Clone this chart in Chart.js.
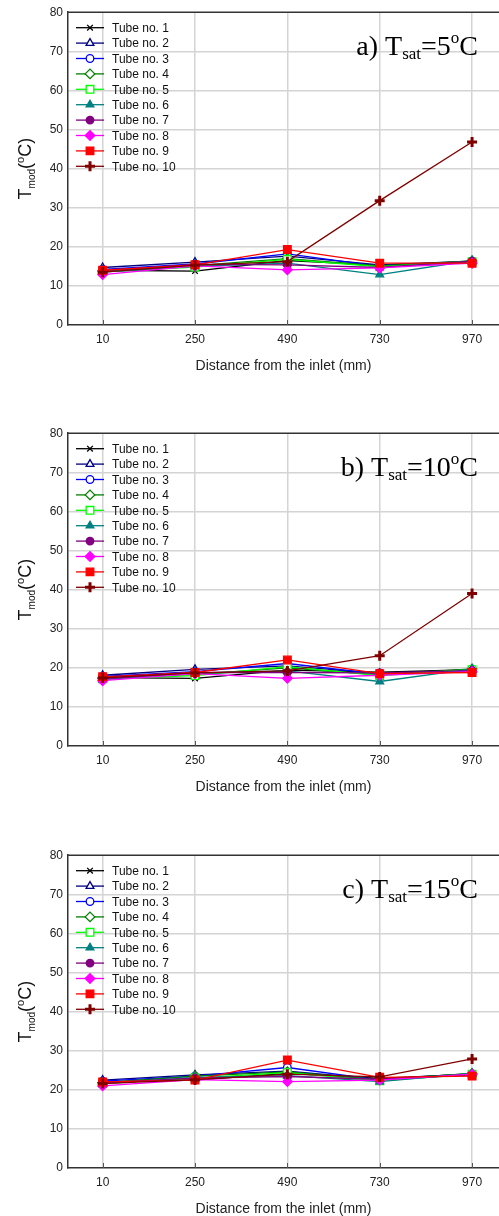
<!DOCTYPE html>
<html>
<head>
<meta charset="utf-8">
<title>Tube temperature profiles</title>
<script src="https://cdn.jsdelivr.net/npm/chart.js@4.4.1/dist/chart.umd.min.js"></script>
<style>
html, body { margin: 0; padding: 0; background: #fff; overflow: hidden; }
canvas { position: absolute; left: 0; }
</style>
</head>
<body>
<canvas id="chartA" width="499" height="421" style="top:0px"></canvas>
<canvas id="chartB" width="499" height="421" style="top:421px"></canvas>
<canvas id="chartC" width="499" height="373" style="top:843px"></canvas>
<script>
// measuring positions along the tube (mm)
const distances = [10, 250, 490, 730, 970];
const yTicks = [0, 10, 20, 30, 40, 50, 60, 70, 80];
const tubeNames = ['Tube no. 1', 'Tube no. 2', 'Tube no. 3', 'Tube no. 4', 'Tube no. 5',
	'Tube no. 6', 'Tube no. 7', 'Tube no. 8', 'Tube no. 9', 'Tube no. 10'];

// T_mod per tube, one row per tube, for each saturation temperature
const tsat5 = [
	[14.0, 13.8, 16.5, 15.3, 16.2],
	[14.7, 16.1, 17.6, 15.4, 16.3],
	[14.2, 15.6, 18.2, 15.0, 16.0],
	[13.8, 15.2, 17.0, 15.1, 16.4],
	[13.6, 14.8, 16.8, 14.9, 16.2],
	[13.5, 15.0, 15.8, 12.9, 16.5],
	[13.9, 15.5, 15.4, 14.7, 16.3],
	[12.9, 15.1, 14.1, 14.6, 15.8],
	[14.0, 15.4, 19.3, 15.8, 15.8],
	[13.5, 15.3, 16.2, 31.8, 46.8]
];
const tsat10 = [
	[17.5, 17.3, 19.4, 18.9, 19.5],
	[18.1, 19.6, 20.5, 18.6, 19.4],
	[17.8, 19.0, 21.1, 18.4, 19.2],
	[17.3, 18.3, 20.0, 18.2, 19.7],
	[17.2, 18.0, 20.3, 18.0, 19.5],
	[17.0, 18.6, 19.2, 16.5, 19.7],
	[17.2, 18.8, 18.8, 18.7, 19.3],
	[16.7, 18.5, 17.3, 18.1, 19.0],
	[17.7, 18.8, 22.0, 18.5, 18.8],
	[17.4, 18.7, 19.2, 23.1, 39.0]
];
const tsat15 = [
	[22.0, 22.5, 24.2, 22.9, 24.0],
	[22.5, 23.8, 24.8, 22.7, 24.1],
	[22.2, 23.5, 25.7, 22.5, 23.9],
	[21.8, 23.5, 24.6, 22.6, 24.2],
	[21.6, 23.0, 24.4, 22.3, 24.0],
	[21.6, 23.2, 23.6, 22.1, 24.2],
	[21.8, 23.0, 23.4, 22.7, 23.9],
	[21.0, 22.6, 22.1, 22.5, 24.0],
	[22.0, 22.5, 27.6, 23.2, 23.5],
	[21.6, 22.6, 24.0, 23.3, 27.9]
];

const tubeColors = ['#000000', '#000080', '#0000ff', '#008000', '#00ff00',
	'#008080', '#800080', '#ff00ff', '#ff0000', '#800000'];
const tubeMarkers = ['crossRot', 'triangle', 'circle', 'rectRot', 'rect',
	'triangle', 'circle', 'rectRot', 'rect', 'cross'];
const tubeOpen = [false, true, true, true, true, false, false, false, false, false];
const markerRadius = { crossRot: 4, triangle: 4.5, circle: 3.8, rectRot: 4.8, rect: 5.4, cross: 5 };

const SANS = '"Liberation Sans", Arial, sans-serif';
const SERIF = '"Liberation Serif", "Times New Roman", serif';
Chart.defaults.font.family = SANS;
Chart.defaults.color = '#222';

function buildDatasets(rows) {
	return rows.map((vals, i) => ({
		label: tubeNames[i],
		data: vals.map((v, j) => ({x: distances[j], y: v})),
		borderColor: tubeColors[i],
		borderWidth: 1.3,
		pointStyle: tubeMarkers[i],
		pointRadius: markerRadius[tubeMarkers[i]],
		pointBorderWidth: tubeMarkers[i] === 'cross' ? 3 : 1.3,
		pointBackgroundColor: tubeOpen[i] ? '#ffffff' : tubeColors[i],
		pointBorderColor: tubeColors[i],
		order: rows.length - i
	}));
}

// draws a run of text pieces (baseline shifts, sizes) from x
function drawPieces(ctx, pieces, x, y) {
	pieces.forEach(p => {
		ctx.font = p.font;
		ctx.fillText(p.text, x, y + (p.dy || 0));
		x += ctx.measureText(p.text).width;
	});
}
function piecesWidth(ctx, pieces) {
	return pieces.reduce((w, p) => { ctx.font = p.font; return w + ctx.measureText(p.text).width; }, 0);
}

const decorations = {
	id: 'decorations',
	afterDraw(chart, args, opts) {
		const {ctx, chartArea: a} = chart;
		const xs = chart.scales.x;
		ctx.save();

		// top frame line
		ctx.strokeStyle = '#333';
		ctx.lineWidth = 1.5;
		ctx.beginPath();
		ctx.moveTo(a.left, a.top);
		ctx.lineTo(a.right, a.top);
		ctx.stroke();

		// short inward ticks on the distance axis
		ctx.strokeStyle = '#555';
		ctx.lineWidth = 1;
		distances.forEach(d => {
			const px = Math.round(xs.getPixelForValue(d)) + 0.5;
			ctx.beginPath();
			ctx.moveTo(px, a.bottom);
			ctx.lineTo(px, a.bottom - 5);
			ctx.stroke();
		});

		// legend
		ctx.textAlign = 'left';
		ctx.textBaseline = 'middle';
		chart.data.datasets.forEach((ds, i) => {
			const y = a.top + 15.5 + i * 15.4;
			ctx.strokeStyle = ds.borderColor;
			ctx.lineWidth = ds.borderWidth;
			ctx.beginPath();
			ctx.moveTo(a.left + 8, y);
			ctx.lineTo(a.left + 36, y);
			ctx.stroke();
			ctx.fillStyle = ds.pointBackgroundColor;
			ctx.strokeStyle = ds.pointBorderColor;
			ctx.lineWidth = ds.pointBorderWidth;
			Chart.helpers.drawPoint(ctx, {
				pointStyle: ds.pointStyle,
				radius: ds.pointRadius,
				rotation: 0,
				borderWidth: ds.pointBorderWidth
			}, a.left + 22, y);
			ctx.fillStyle = '#111';
			ctx.font = '12px ' + SANS;
			ctx.fillText(ds.label, a.left + 44, y + 1);
		});

		// panel label, e.g. a) Tsat=5oC
		ctx.fillStyle = '#000';
		ctx.textBaseline = 'alphabetic';
		const big = '28px ' + SERIF, small = '17px ' + SERIF;
		const label = [
			{text: opts.letter + ' T', font: big},
			{text: 'sat', font: small, dy: 4},
			{text: '=' + opts.tsat, font: big},
			{text: 'o', font: small, dy: -12},
			{text: 'C', font: big}
		];
		drawPieces(ctx, label, 478 - piecesWidth(ctx, label), a.top + 43);

		// rotated y title T_mod(oC)
		const yt = [
			{text: 'T', font: '18px ' + SANS},
			{text: 'mod', font: '10px ' + SANS, dy: 4},
			{text: '(', font: '18px ' + SANS},
			{text: 'o', font: '11px ' + SANS, dy: -7},
			{text: 'C)', font: '18px ' + SANS}
		];
		ctx.fillStyle = '#111';
		ctx.translate(31, (a.top + a.bottom) / 2);
		ctx.rotate(-Math.PI / 2);
		drawPieces(ctx, yt, -piecesWidth(ctx, yt) / 2, 0);
		ctx.restore();
	}
};

function makePanel(id, rows, letter, tsat) {
	const canvas = document.getElementById(id);
	const h = canvas.height;
	new Chart(canvas, {
		type: 'line',
		data: { datasets: buildDatasets(rows) },
		plugins: [decorations],
		options: {
			responsive: false,
			animation: false,
			devicePixelRatio: 1,
			layout: { autoPadding: false, padding: { top: 12, left: 0, right: 0, bottom: h - 325 - 48 } },
			plugins: {
				legend: { display: false },
				tooltip: { enabled: false },
				decorations: { letter: letter, tsat: tsat }
			},
			scales: {
				x: {
					type: 'linear',
					min: -80,
					max: 1040,
					afterBuildTicks: s => { s.ticks = distances.map(v => ({value: v})); },
					afterFit: s => { s.height = 48; },
					grid: { color: '#d4d4d4', lineWidth: 1.5, drawTicks: false },
					border: { color: '#333', width: 1.5 },
					ticks: { padding: 7, color: '#222', font: { size: 12 } },
					title: {
						display: true,
						text: 'Distance from the inlet (mm)',
						padding: { top: 0, bottom: -2 },
						color: '#222',
						font: { size: 14 }
					}
				},
				y: {
					min: 0,
					max: 80,
					afterBuildTicks: s => { s.ticks = yTicks.map(v => ({value: v})); },
					afterFit: s => { s.width = 68; },
					grid: {
						color: c => (c.tick && (c.tick.value === 0 || c.tick.value === 80)) ? 'rgba(0,0,0,0)' : '#d4d4d4',
						lineWidth: 1.5,
						drawTicks: false
					},
					border: { color: '#333', width: 1.5 },
					ticks: { padding: 5, color: '#222', font: { size: 12 } }
				}
			}
		}
	});
}

makePanel('chartA', tsat5, 'a)', 5);
makePanel('chartB', tsat10, 'b)', 10);
makePanel('chartC', tsat15, 'c)', 15);
</script>
</body>
</html>
